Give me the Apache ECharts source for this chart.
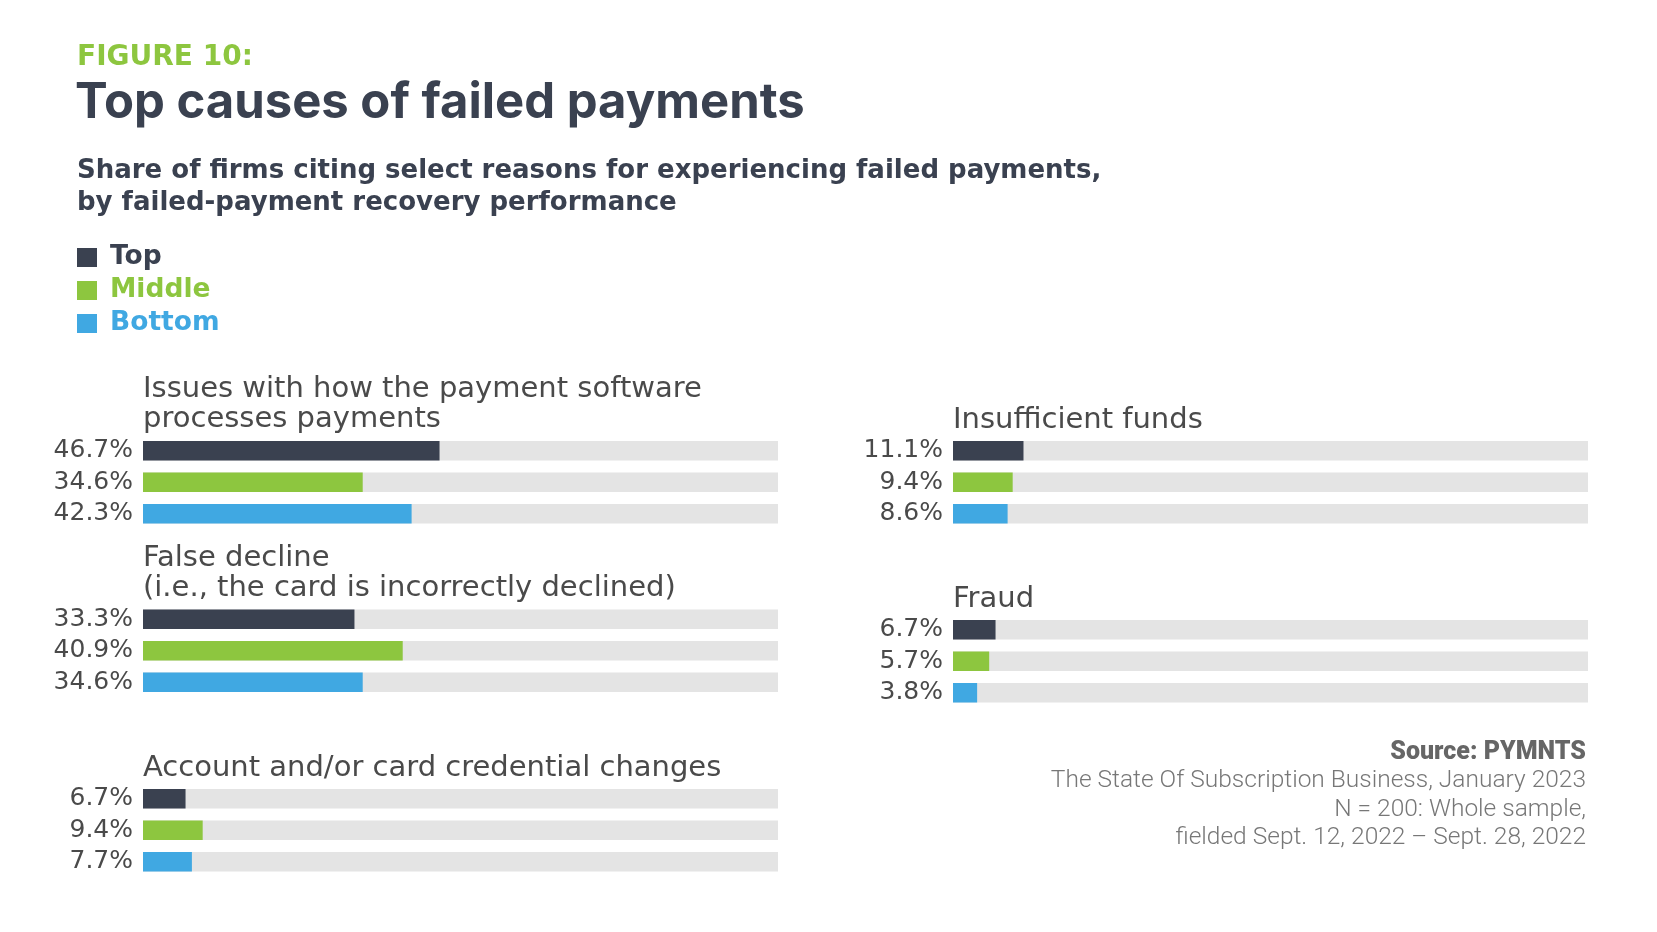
<!DOCTYPE html>
<html>
<head>
<meta charset="utf-8">
<title>Top causes of failed payments</title>
<script src="https://cdn.jsdelivr.net/npm/echarts@6/dist/echarts.min.js"></script>
<style>
html,body{margin:0;padding:0;background:#fff;}
#main{width:1657px;height:932px;}
</style>
</head>
<body>
<div id="main"></div>
<script>
// 数据
var causes = [
	'Issues with how the payment software\nprocesses payments',
	'False decline\n(i.e., the card is incorrectly declined)',
	'Account and/or card credential changes',
	'Insufficient funds',
	'Fraud'
];
var tiers = ['Top', 'Middle', 'Bottom'];
var topValues = [46.7, 33.3, 6.7, 11.1, 6.7];
var middleValues = [34.6, 40.9, 9.4, 9.4, 5.7];
var bottomValues = [42.3, 34.6, 7.7, 8.6, 3.8];
var tierValues = [topValues, middleValues, bottomValues];
var tierColors = ['#3a4150', '#8dc63f', '#40a8e2'];
var sourceLines = [
	'The State Of Subscription Business, January 2023',
	'N = 200: Whole sample,',
	'fielded Sept. 12, 2022 \u2013 Sept. 28, 2022'
];

// 每组的位置
var groupLeft = [143, 143, 143, 953, 953];
var groupTop = [435, 603.5, 783, 435, 614];
var labelY = [[389, 419], [558, 588], [768], [420], [599]];
var barW = 635, bandH = 31.5;
var lightFont = 'DejaVu Sans';

var grids = [], xAxes = [], yAxes = [], series = [], graphics = [];

for (let i = 0; i < causes.length; i++) {
	grids.push({left: groupLeft[i], top: groupTop[i], width: barW, height: bandH * 3});
	xAxes.push({type: 'value', gridIndex: i, min: 0, max: 100, show: false});
	yAxes.push({type: 'category', gridIndex: i, data: tiers, inverse: true, show: false});
	// 灰色底条
	series.push({
		name: 'bg', type: 'bar', xAxisIndex: i, yAxisIndex: i,
		data: [100, 100, 100], barWidth: 19.5, barGap: '-100%',
		itemStyle: {color: '#e4e4e4'}, silent: true
	});
	for (let t = 0; t < tiers.length; t++) {
		var d = ['-', '-', '-'];
		d[t] = tierValues[t][i];
		series.push({
			name: tiers[t], type: 'bar', xAxisIndex: i, yAxisIndex: i,
			data: d, barWidth: 19.5, barGap: '-100%',
			itemStyle: {color: tierColors[t]},
			label: {
				show: true, position: 'left', distance: 10,
				formatter: '{c}%',
				fontFamily: lightFont, fontWeight: 'normal', fontSize: 25, color: '#4a4a4a'
			}
		});
	}
	// 分类标题
	var lines = causes[i].split('\n');
	for (let k = 0; k < lines.length; k++) {
		graphics.push({
			type: 'text', left: groupLeft[i], top: labelY[i][k] - 16,
			style: {text: lines[k], fontFamily: lightFont, fontWeight: 'normal', fontSize: 29, fill: '#4a4a4a', lineHeight: 32}
		});
	}
}

// 标题文字
graphics.push(
	{type: 'text', left: 77, top: 42, style: {text: 'FIGURE 10:', fontFamily: 'DejaVu Sans', fontWeight: 'bold', fontSize: 28, fill: '#8dc63f', lineHeight: 32}},
	{type: 'text', left: 75, top: 74, style: {text: 'Top causes of failed payments', fontFamily: 'Inter', fontWeight: 700, fontSize: 49, fill: '#3a4150', lineHeight: 58}},
	{type: 'text', left: 77, top: 156, style: {text: 'Share of firms citing select reasons for experiencing failed payments,', fontFamily: 'DejaVu Sans', fontWeight: 'bold', fontSize: 26, fill: '#3a4150', lineHeight: 30}},
	{type: 'text', left: 77, top: 188, style: {text: 'by failed-payment recovery performance', fontFamily: 'DejaVu Sans', fontWeight: 'bold', fontSize: 26, fill: '#3a4150', lineHeight: 30}},
	{type: 'text', right: 71, top: 739, style: {text: 'Source: PYMNTS', fontFamily: 'Roboto', fontWeight: 900, fontSize: 25, fill: '#666', lineHeight: 28}}
);
for (let s = 0; s < sourceLines.length; s++) {
	graphics.push({type: 'text', right: 71, top: 767 + s * 28.6, style: {text: sourceLines[s], fontFamily: 'Roboto', fontWeight: 300, fontSize: 24.5, fill: '#777', lineHeight: 28}});
}

var legendData = [];
for (let t = 0; t < tiers.length; t++) {
	legendData.push({name: tiers[t], textStyle: {color: tierColors[t]}});
}

var option = {
	animation: false,
	legend: {
		data: legendData, orient: 'vertical', left: 77, top: 244, padding: 0,
		icon: 'rect', itemWidth: 20, itemHeight: 19, itemGap: 6, selectedMode: false,
		textStyle: {fontFamily: 'DejaVu Sans', fontWeight: 'bold', fontSize: 26.5, lineHeight: 26, padding: [0, 0, 0, 8]}
	},
	grid: grids,
	xAxis: xAxes,
	yAxis: yAxes,
	series: series,
	graphic: graphics
};
var myChart = echarts.init(document.getElementById('main'));
myChart.setOption(option);
</script>
</body>
</html>
